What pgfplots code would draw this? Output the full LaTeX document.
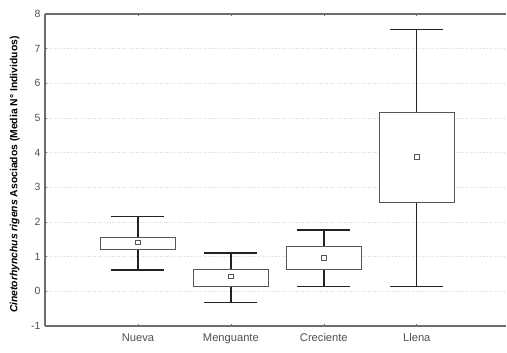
\documentclass[border=0pt]{standalone}
\usepackage{pgfplots}
\pgfplotsset{compat=1.18}
\usepgfplotslibrary{statistics}
\usepackage{fontspec}
\setmainfont{Liberation Sans}
\definecolor{axgray}{HTML}{6E6E6E}
\definecolor{txtgray}{HTML}{505050}
\definecolor{whisk}{HTML}{222222}
\definecolor{boxc}{HTML}{555555}
\begin{document}
\begin{tikzpicture}
\begin{axis}[
  name=ax,
  scale only axis,
  width=461bp, height=312bp,
  xmin=0, xmax=4.96,
  ymin=-1, ymax=8,
  axis x line=box,
  axis y line=left,
  axis line style={-, axgray, line width=1.1pt},
  xtick={1,2,3,4},
  xticklabels={Nueva,Menguante,Creciente,Llena},
  ytick={-1,0,...,8},
  tick align=inside,
  major tick length=2bp,
  tick style={axgray, line width=0.6pt},
  ymajorgrids,
  major grid style={dotted, gray!30, line width=0.7pt},
  /pgf/number format/assume math mode=true,
  tick label style={text=txtgray},
  xticklabel style={yshift=-4bp, font=\fontsize{11.2}{13}\selectfont},
  yticklabel style={xshift=-1bp, font=\fontsize{10.5}{12}\selectfont},
  ylabel={\textbf{\textit{Cinetorhynchus rigens} Asociados (Media N° Individuos)}},
  ylabel style={at={(axis description cs:-0.066,0.485)}, anchor=center, font=\fontsize{10.4}{12}\selectfont, text=black},
  boxplot/draw direction=y,
  boxplot/box extend=0.81,
  boxplot/whisker extend=0.57,
  boxplot/draw/median/.code={},
  boxplot/every box/.style={draw=boxc, fill=white, line width=0.8pt},
  boxplot/every whisker/.style={draw=whisk, line width=1.4pt},
  clip=false,
]
\addplot+[boxplot prepared={lower whisker=0.62, lower quartile=1.22, median=1.41, upper quartile=1.565, upper whisker=2.16, draw position=1}, draw=boxc, mark=none] coordinates {};
\addplot+[boxplot prepared={lower whisker=-0.33, lower quartile=0.14, median=0.43, upper quartile=0.64, upper whisker=1.11, draw position=2}, draw=boxc, mark=none] coordinates {};
\addplot+[boxplot prepared={lower whisker=0.14, lower quartile=0.64, median=0.96, upper quartile=1.31, upper whisker=1.77, draw position=3}, draw=boxc, mark=none] coordinates {};
\addplot+[boxplot prepared={lower whisker=0.14, lower quartile=2.56, median=3.88, upper quartile=5.15, upper whisker=7.55, draw position=4}, draw=boxc, mark=none] coordinates {};
\addplot[only marks, mark=square, mark size=2.3bp, mark options={draw=boxc, fill=white, line width=0.8pt}] coordinates {(1,1.41) (2,0.43) (3,0.96) (4,3.88)};
\end{axis}
\pgfresetboundingbox
\path[use as bounding box] ([shift={(-45bp,-27bp)}]ax.south west) rectangle ([shift={(1bp,14bp)}]ax.north east);
\end{tikzpicture}
\end{document}
